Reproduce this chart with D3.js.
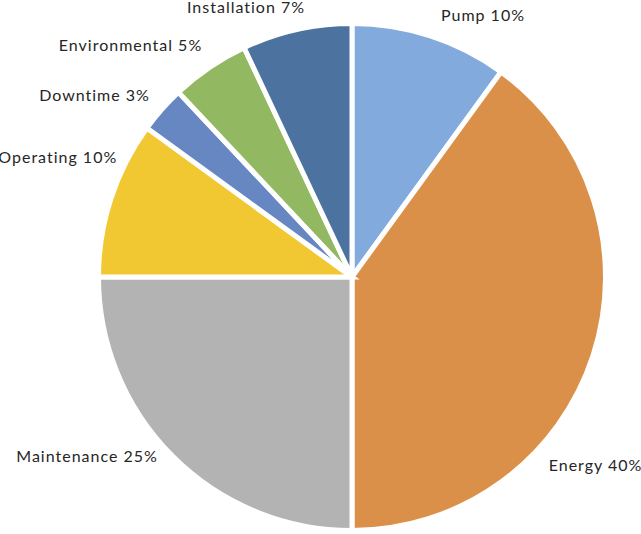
<!DOCTYPE html>
<html>
<head>
<meta charset="utf-8">
<script src="https://cdn.jsdelivr.net/npm/d3@7/dist/d3.min.js"></script>
<style>
  html, body { margin: 0; padding: 0; background: #ffffff; }
  svg { display: block; }
</style>
</head>
<body>
<svg id="chart" width="641" height="534"></svg>
<script>
// ---- data ----
const categories = ["Pump", "Energy", "Maintenance", "Operating", "Downtime", "Environmental", "Installation"];
const values = [10, 40, 25, 10, 3, 5, 7];
const colors = ["#82AADC", "#DA9049", "#B3B3B3", "#F2C832", "#6787C3", "#93B862", "#4C72A0"];

// ---- layout (not data) ----
const W = 641, H = 534;
const cx = 352, cy = 277;
const outerR = 253.5;
// label placement tweaks: angle shift (deg) from slice middle, and radius
const labelPlace = {
  Pump:          { da: 0.8,  r: 276 },
  Energy:        { da: 25.9, r: 273 },
  Maintenance:   { da: 2.1,  r: 265 },
  Operating:     { da: 8.8,  r: 263 },
  Downtime:      { da: 0.5,  r: 271.5 },
  Environmental: { da: 1.2,  r: 275 },
  Installation:  { da: 2.7,  r: 273 }
};

const svg = d3.select("#chart");
const g = svg.append("g").attr("transform", `translate(${cx},${cy})`);

const pie = d3.pie().sort(null).value(d => d.value);
const table = categories.map((c, i) => ({ name: c, value: values[i], color: colors[i] }));
const arcs = pie(table);

const arc = d3.arc().innerRadius(0).outerRadius(outerR);

g.selectAll("path.slice")
  .data(arcs)
  .join("path")
  .attr("class", "slice")
  .attr("d", arc)
  .attr("fill", d => d.data.color)
  .attr("stroke", "#ffffff")
  .attr("stroke-width", 5)
  .attr("stroke-linejoin", "miter");

const total = d3.sum(values);
g.selectAll("text.label")
  .data(arcs)
  .join("text")
  .attr("class", "label")
  .each(function (d) {
    const p = labelPlace[d.data.name] || { da: 0, r: 271 };
    const mid = (d.startAngle + d.endAngle) / 2 + p.da * Math.PI / 180;
    const x = p.r * Math.sin(mid);
    const y = -p.r * Math.cos(mid) - 1.5;
    d3.select(this)
      .attr("x", x)
      .attr("y", y)
      .attr("text-anchor", Math.sin(mid) >= 0 ? "start" : "end");
  })
  .attr("dominant-baseline", "central")
  .attr("font-family", "Lato, 'Open Sans', sans-serif")
  .attr("font-size", 16)
  .attr("letter-spacing", 1)
  .attr("fill", "#262626")
  .text(d => `${d.data.name} ${Math.round(d.data.value / total * 100)}%`);
</script>
</body>
</html>
